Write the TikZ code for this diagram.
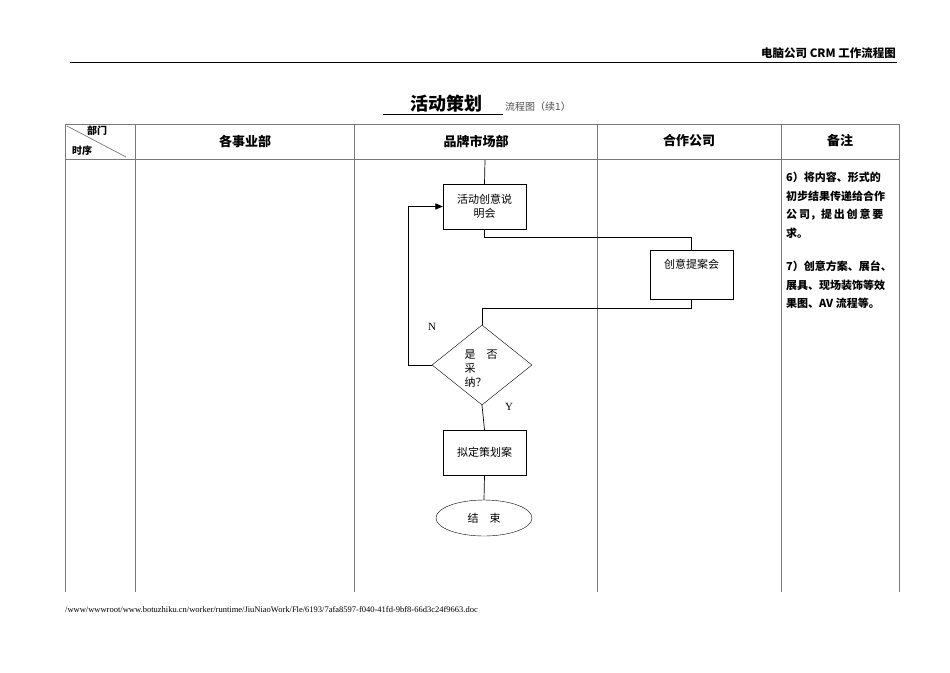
\documentclass[tikz,border=0pt]{standalone}
\usepackage{fontspec}
\setmainfont{Liberation Serif}
\newfontfamily\cjk{Noto Sans CJK SC}
\usetikzlibrary{shapes.geometric,arrows,positioning}
\definecolor{mygrid}{RGB}{120,120,120}

\begin{document}
\begin{tikzpicture}[
  x=1pt, y=-1pt,
  mybox/.style={draw, rectangle, minimum width=83pt, font=\cjk\fontsize{11}{14}\selectfont},
  myflow/.style={draw, line width=0.7pt},
  mygridline/.style={draw=mygrid, line width=0.7pt},
  mynote/.style={anchor=north west, align=left, inner sep=0pt, font=\cjk\bfseries\fontsize{11}{18.5}\selectfont}
]
\useasboundingbox (0,0) rectangle (950,672);

% page header
\draw[line width=0.7pt] (70,62) -- (897,62);
\node[anchor=south east, font=\cjk\bfseries\fontsize{11.5}{13}\selectfont, inner sep=1pt] (pagehead) at (897,60) {电脑公司 CRM 工作流程图};
\node[font=\cjk\bfseries\fontsize{18}{20}\selectfont, inner sep=1pt] (title) at (446,104) {活动策划};
\draw[line width=0.7pt] (383,114) -- (503,114);
\node[anchor=west, font=\cjk\fontsize{10}{12}\selectfont, inner sep=1pt, text=black!70] (subtitle) at (504,107) {流程图（续1）};

% table
\draw[mygridline] (65,124) -- (899,124);
\draw[mygridline] (65,159) -- (899,159);
\foreach \colx in {65,135,354,597,781,899}
  \draw[mygridline] (\colx,124) -- (\colx,592);
\draw[mygridline] (67,126) -- (126,157);
\node[font=\cjk\bfseries\fontsize{10}{11}\selectfont, inner sep=0pt] (hdept) at (97,131) {部门};
\node[font=\cjk\bfseries\fontsize{10}{11}\selectfont, inner sep=0pt] (hseq) at (82,151) {时序};
\foreach \colname/\colx in {各事业部/245, 品牌市场部/476, 合作公司/689, 备注/840}
  \node[font=\cjk\bfseries\fontsize{13}{15}\selectfont] at (\colx,141) {\colname};

% notes
\node[mynote] (note6) at (786,172)
  {6）将内容、形式的\\初步结果传递给合作\\公\,司，提\,出\,创\,意\,要\\求。};
\node[mynote] (note7) at (786,261)
  {7）创意方案、展台、\\展具、现场装饰等效\\果图、AV 流程等。};

% flow nodes
\node[mybox, minimum height=45pt, align=center, text width=72pt] (briefing) at (484.5,206.5) {活动创意说\\明会};
\node[mybox, minimum height=49pt, text depth=22pt] (proposal) at (691.5,274.5) {创意提案会};
\node[draw, diamond, minimum width=100pt, minimum height=80pt, inner sep=0pt, aspect=1.25] (adopt) at (482,365) {};
\node[font=\cjk\fontsize{11}{14}\selectfont, align=left] (adopttxt) at (481,369) {是\quad 否\\采\\纳？};
\node[mybox, minimum height=45pt] (plan) at (484.5,452.5) {拟定策划案};
\node[draw, ellipse, minimum width=96pt, minimum height=36pt, font=\cjk\fontsize{11}{14}\selectfont] (finish) at (484,518) {结\quad 束};

% connectors
\coordinate (topin) at (485,160);
\draw[myflow] (topin) -- (briefing.north);
\draw[myflow] (briefing.south) -- ++(0,8) -| (proposal.north);
\draw[myflow] (proposal.south) -- ++(0,9) -| (adopt.north);
\draw[myflow, -triangle 45] (adopt.west) -- (408,365) |- (briefing.west);
\draw[myflow] (adopt.south) -- (plan.north);
\draw[myflow] (plan.south) -- (finish.north);
\node[font=\fontsize{11}{13}\selectfont] (nlabel) at (432,327) {N};
\node[font=\fontsize{11}{13}\selectfont] (ylabel) at (509,407) {Y};

% footer
\node[anchor=west, font=\fontsize{8.5}{10}\selectfont, inner sep=0pt] (footer) at (65,610)
  {/www/wwwroot/www.botuzhiku.cn/worker/runtime/JiuNiaoWork/Fle/6193/7afa8597-f040-41fd-9bf8-66d3c24f9663.doc};
\end{tikzpicture}
\end{document}
